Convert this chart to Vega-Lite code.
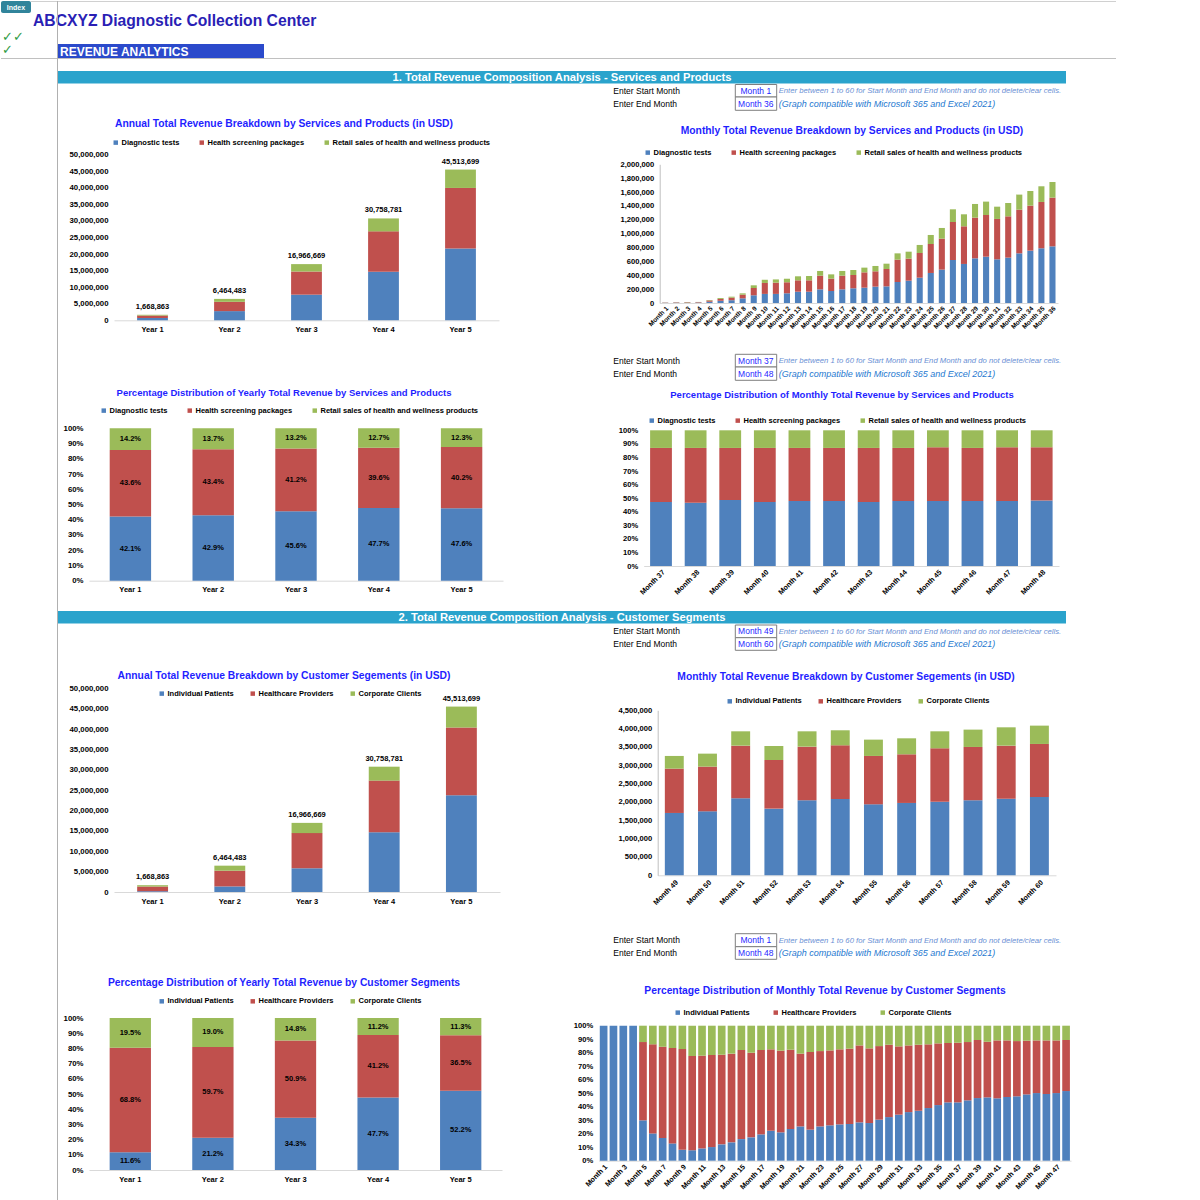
{
"$schema":"https://vega.github.io/schema/vega-lite/v6.json",
"background":"#ffffff",
"padding":0,
"columns":2,
"spacing":0,
"bounds":"flush",
"align":"each",
"resolve":{"scale":{"color":"independent"},"legend":{"color":"independent"}},
"config":{
 "view":{"stroke":null},
 "font":"Liberation Sans",
 "text":{"font":"Liberation Sans"},
 "axis":{"labelFont":"Liberation Sans","labelFontWeight":"bold","labelFontSize":7.5,"labelColor":"#000000","ticks":false,"grid":false,"domainColor":"#d9d9d9","labelPadding":5,"labelOverlap":false},
 "legend":{"labelFont":"Liberation Sans","labelFontSize":7.5,"labelFontWeight":"bold","labelColor":"#000000","symbolType":"square","symbolSize":20,"symbolStrokeWidth":0,"labelOffset":2,"padding":0,"labelLimit":400,"rowPadding":0}
},
"datasets":{
 "svcYear":[
  {"period":"Year 1","cat":"Diagnostic tests","value":702591},{"period":"Year 1","cat":"Health screening packages","value":727624},{"period":"Year 1","cat":"Retail sales of health and wellness products","value":238648},
  {"period":"Year 2","cat":"Diagnostic tests","value":2773263},{"period":"Year 2","cat":"Health screening packages","value":2805586},{"period":"Year 2","cat":"Retail sales of health and wellness products","value":885634},
  {"period":"Year 3","cat":"Diagnostic tests","value":7736801},{"period":"Year 3","cat":"Health screening packages","value":6990268},{"period":"Year 3","cat":"Retail sales of health and wellness products","value":2239600},
  {"period":"Year 4","cat":"Diagnostic tests","value":14671939},{"period":"Year 4","cat":"Health screening packages","value":12180477},{"period":"Year 4","cat":"Retail sales of health and wellness products","value":3906365},
  {"period":"Year 5","cat":"Diagnostic tests","value":21664521},{"period":"Year 5","cat":"Health screening packages","value":18296507},{"period":"Year 5","cat":"Retail sales of health and wellness products","value":5552671}
 ],
 "svcYearPct":[
  {"period":"Year 1","cat":"Diagnostic tests","share":0.421},{"period":"Year 1","cat":"Health screening packages","share":0.436},{"period":"Year 1","cat":"Retail sales of health and wellness products","share":0.142},
  {"period":"Year 2","cat":"Diagnostic tests","share":0.429},{"period":"Year 2","cat":"Health screening packages","share":0.434},{"period":"Year 2","cat":"Retail sales of health and wellness products","share":0.137},
  {"period":"Year 3","cat":"Diagnostic tests","share":0.456},{"period":"Year 3","cat":"Health screening packages","share":0.412},{"period":"Year 3","cat":"Retail sales of health and wellness products","share":0.132},
  {"period":"Year 4","cat":"Diagnostic tests","share":0.477},{"period":"Year 4","cat":"Health screening packages","share":0.396},{"period":"Year 4","cat":"Retail sales of health and wellness products","share":0.127},
  {"period":"Year 5","cat":"Diagnostic tests","share":0.476},{"period":"Year 5","cat":"Health screening packages","share":0.402},{"period":"Year 5","cat":"Retail sales of health and wellness products","share":0.123}
 ],
 "svcMonth":[
  {"period":"Month 1","cat":"Diagnostic tests","value":3000},{"period":"Month 1","cat":"Health screening packages","value":3500},{"period":"Month 1","cat":"Retail sales of health and wellness products","value":1200},
  {"period":"Month 2","cat":"Diagnostic tests","value":4500},{"period":"Month 2","cat":"Health screening packages","value":5500},{"period":"Month 2","cat":"Retail sales of health and wellness products","value":1800},
  {"period":"Month 3","cat":"Diagnostic tests","value":5000},{"period":"Month 3","cat":"Health screening packages","value":6000},{"period":"Month 3","cat":"Retail sales of health and wellness products","value":2000},
  {"period":"Month 4","cat":"Diagnostic tests","value":6000},{"period":"Month 4","cat":"Health screening packages","value":7000},{"period":"Month 4","cat":"Retail sales of health and wellness products","value":2200},
  {"period":"Month 5","cat":"Diagnostic tests","value":18000},{"period":"Month 5","cat":"Health screening packages","value":19000},{"period":"Month 5","cat":"Retail sales of health and wellness products","value":6000},
  {"period":"Month 6","cat":"Diagnostic tests","value":32000},{"period":"Month 6","cat":"Health screening packages","value":27000},{"period":"Month 6","cat":"Retail sales of health and wellness products","value":13000},
  {"period":"Month 7","cat":"Diagnostic tests","value":40000},{"period":"Month 7","cat":"Health screening packages","value":37000},{"period":"Month 7","cat":"Retail sales of health and wellness products","value":14000},
  {"period":"Month 8","cat":"Diagnostic tests","value":67000},{"period":"Month 8","cat":"Health screening packages","value":53000},{"period":"Month 8","cat":"Retail sales of health and wellness products","value":19000},
  {"period":"Month 9","cat":"Diagnostic tests","value":111000},{"period":"Month 9","cat":"Health screening packages","value":105000},{"period":"Month 9","cat":"Retail sales of health and wellness products","value":39000},
  {"period":"Month 10","cat":"Diagnostic tests","value":131000},{"period":"Month 10","cat":"Health screening packages","value":158000},{"period":"Month 10","cat":"Retail sales of health and wellness products","value":46000},
  {"period":"Month 11","cat":"Diagnostic tests","value":131000},{"period":"Month 11","cat":"Health screening packages","value":162000},{"period":"Month 11","cat":"Retail sales of health and wellness products","value":47000},
  {"period":"Month 12","cat":"Diagnostic tests","value":140000},{"period":"Month 12","cat":"Health screening packages","value":159000},{"period":"Month 12","cat":"Retail sales of health and wellness products","value":51000},
  {"period":"Month 13","cat":"Diagnostic tests","value":163000},{"period":"Month 13","cat":"Health screening packages","value":164000},{"period":"Month 13","cat":"Retail sales of health and wellness products","value":58000},
  {"period":"Month 14","cat":"Diagnostic tests","value":163000},{"period":"Month 14","cat":"Health screening packages","value":164000},{"period":"Month 14","cat":"Retail sales of health and wellness products","value":62000},
  {"period":"Month 15","cat":"Diagnostic tests","value":197000},{"period":"Month 15","cat":"Health screening packages","value":197000},{"period":"Month 15","cat":"Retail sales of health and wellness products","value":68000},
  {"period":"Month 16","cat":"Diagnostic tests","value":173000},{"period":"Month 16","cat":"Health screening packages","value":178000},{"period":"Month 16","cat":"Retail sales of health and wellness products","value":62000},
  {"period":"Month 17","cat":"Diagnostic tests","value":197000},{"period":"Month 17","cat":"Health screening packages","value":197000},{"period":"Month 17","cat":"Retail sales of health and wellness products","value":68000},
  {"period":"Month 18","cat":"Diagnostic tests","value":212000},{"period":"Month 18","cat":"Health screening packages","value":192000},{"period":"Month 18","cat":"Retail sales of health and wellness products","value":72000},
  {"period":"Month 19","cat":"Diagnostic tests","value":221000},{"period":"Month 19","cat":"Health screening packages","value":221000},{"period":"Month 19","cat":"Retail sales of health and wellness products","value":68000},
  {"period":"Month 20","cat":"Diagnostic tests","value":236000},{"period":"Month 20","cat":"Health screening packages","value":221000},{"period":"Month 20","cat":"Retail sales of health and wellness products","value":77000},
  {"period":"Month 21","cat":"Diagnostic tests","value":240000},{"period":"Month 21","cat":"Health screening packages","value":250000},{"period":"Month 21","cat":"Retail sales of health and wellness products","value":77000},
  {"period":"Month 22","cat":"Diagnostic tests","value":303000},{"period":"Month 22","cat":"Health screening packages","value":322000},{"period":"Month 22","cat":"Retail sales of health and wellness products","value":91000},
  {"period":"Month 23","cat":"Diagnostic tests","value":322000},{"period":"Month 23","cat":"Health screening packages","value":318000},{"period":"Month 23","cat":"Retail sales of health and wellness products","value":100000},
  {"period":"Month 24","cat":"Diagnostic tests","value":365000},{"period":"Month 24","cat":"Health screening packages","value":356000},{"period":"Month 24","cat":"Retail sales of health and wellness products","value":116000},
  {"period":"Month 25","cat":"Diagnostic tests","value":433000},{"period":"Month 25","cat":"Health screening packages","value":418000},{"period":"Month 25","cat":"Retail sales of health and wellness products","value":130000},
  {"period":"Month 26","cat":"Diagnostic tests","value":481000},{"period":"Month 26","cat":"Health screening packages","value":447000},{"period":"Month 26","cat":"Retail sales of health and wellness products","value":154000},
  {"period":"Month 27","cat":"Diagnostic tests","value":620000},{"period":"Month 27","cat":"Health screening packages","value":548000},{"period":"Month 27","cat":"Retail sales of health and wellness products","value":183000},
  {"period":"Month 28","cat":"Diagnostic tests","value":563000},{"period":"Month 28","cat":"Health screening packages","value":543000},{"period":"Month 28","cat":"Retail sales of health and wellness products","value":173000},
  {"period":"Month 29","cat":"Diagnostic tests","value":644000},{"period":"Month 29","cat":"Health screening packages","value":587000},{"period":"Month 29","cat":"Retail sales of health and wellness products","value":197000},
  {"period":"Month 30","cat":"Diagnostic tests","value":668000},{"period":"Month 30","cat":"Health screening packages","value":601000},{"period":"Month 30","cat":"Retail sales of health and wellness products","value":193000},
  {"period":"Month 31","cat":"Diagnostic tests","value":630000},{"period":"Month 31","cat":"Health screening packages","value":582000},{"period":"Month 31","cat":"Retail sales of health and wellness products","value":177000},
  {"period":"Month 32","cat":"Diagnostic tests","value":654000},{"period":"Month 32","cat":"Health screening packages","value":596000},{"period":"Month 32","cat":"Retail sales of health and wellness products","value":192000},
  {"period":"Month 33","cat":"Diagnostic tests","value":716000},{"period":"Month 33","cat":"Health screening packages","value":630000},{"period":"Month 33","cat":"Retail sales of health and wellness products","value":217000},
  {"period":"Month 34","cat":"Diagnostic tests","value":755000},{"period":"Month 34","cat":"Health screening packages","value":649000},{"period":"Month 34","cat":"Retail sales of health and wellness products","value":211000},
  {"period":"Month 35","cat":"Diagnostic tests","value":789000},{"period":"Month 35","cat":"Health screening packages","value":668000},{"period":"Month 35","cat":"Retail sales of health and wellness products","value":226000},
  {"period":"Month 36","cat":"Diagnostic tests","value":817000},{"period":"Month 36","cat":"Health screening packages","value":702000},{"period":"Month 36","cat":"Retail sales of health and wellness products","value":226000}
 ],
 "svcMonthPct":[
  {"period":"Month 37","cat":"Diagnostic tests","share":0.472},{"period":"Month 37","cat":"Health screening packages","share":0.398},{"period":"Month 37","cat":"Retail sales of health and wellness products","share":0.130},
  {"period":"Month 38","cat":"Diagnostic tests","share":0.467},{"period":"Month 38","cat":"Health screening packages","share":0.403},{"period":"Month 38","cat":"Retail sales of health and wellness products","share":0.130},
  {"period":"Month 39","cat":"Diagnostic tests","share":0.486},{"period":"Month 39","cat":"Health screening packages","share":0.384},{"period":"Month 39","cat":"Retail sales of health and wellness products","share":0.130},
  {"period":"Month 40","cat":"Diagnostic tests","share":0.472},{"period":"Month 40","cat":"Health screening packages","share":0.398},{"period":"Month 40","cat":"Retail sales of health and wellness products","share":0.130},
  {"period":"Month 41","cat":"Diagnostic tests","share":0.479},{"period":"Month 41","cat":"Health screening packages","share":0.391},{"period":"Month 41","cat":"Retail sales of health and wellness products","share":0.130},
  {"period":"Month 42","cat":"Diagnostic tests","share":0.479},{"period":"Month 42","cat":"Health screening packages","share":0.391},{"period":"Month 42","cat":"Retail sales of health and wellness products","share":0.130},
  {"period":"Month 43","cat":"Diagnostic tests","share":0.472},{"period":"Month 43","cat":"Health screening packages","share":0.398},{"period":"Month 43","cat":"Retail sales of health and wellness products","share":0.130},
  {"period":"Month 44","cat":"Diagnostic tests","share":0.479},{"period":"Month 44","cat":"Health screening packages","share":0.391},{"period":"Month 44","cat":"Retail sales of health and wellness products","share":0.130},
  {"period":"Month 45","cat":"Diagnostic tests","share":0.479},{"period":"Month 45","cat":"Health screening packages","share":0.396},{"period":"Month 45","cat":"Retail sales of health and wellness products","share":0.125},
  {"period":"Month 46","cat":"Diagnostic tests","share":0.479},{"period":"Month 46","cat":"Health screening packages","share":0.391},{"period":"Month 46","cat":"Retail sales of health and wellness products","share":0.130},
  {"period":"Month 47","cat":"Diagnostic tests","share":0.479},{"period":"Month 47","cat":"Health screening packages","share":0.396},{"period":"Month 47","cat":"Retail sales of health and wellness products","share":0.125},
  {"period":"Month 48","cat":"Diagnostic tests","share":0.482},{"period":"Month 48","cat":"Health screening packages","share":0.393},{"period":"Month 48","cat":"Retail sales of health and wellness products","share":0.125}
 ],
 "cusYear":[
  {"period":"Year 1","cat":"Individual Patients","value":193588},{"period":"Year 1","cat":"Healthcare Providers","value":1148178},{"period":"Year 1","cat":"Corporate Clients","value":327097},
  {"period":"Year 2","cat":"Individual Patients","value":1370470},{"period":"Year 2","cat":"Healthcare Providers","value":3859296},{"period":"Year 2","cat":"Corporate Clients","value":1234717},
  {"period":"Year 3","cat":"Individual Patients","value":5819567},{"period":"Year 3","cat":"Healthcare Providers","value":8636035},{"period":"Year 3","cat":"Corporate Clients","value":2511067},
  {"period":"Year 4","cat":"Individual Patients","value":14671939},{"period":"Year 4","cat":"Healthcare Providers","value":12672618},{"period":"Year 4","cat":"Corporate Clients","value":3414224},
  {"period":"Year 5","cat":"Individual Patients","value":23758151},{"period":"Year 5","cat":"Healthcare Providers","value":16612500},{"period":"Year 5","cat":"Corporate Clients","value":5143048}
 ],
 "cusYearPct":[
  {"period":"Year 1","cat":"Individual Patients","share":0.116},{"period":"Year 1","cat":"Healthcare Providers","share":0.688},{"period":"Year 1","cat":"Corporate Clients","share":0.195},
  {"period":"Year 2","cat":"Individual Patients","share":0.212},{"period":"Year 2","cat":"Healthcare Providers","share":0.597},{"period":"Year 2","cat":"Corporate Clients","share":0.190},
  {"period":"Year 3","cat":"Individual Patients","share":0.343},{"period":"Year 3","cat":"Healthcare Providers","share":0.509},{"period":"Year 3","cat":"Corporate Clients","share":0.148},
  {"period":"Year 4","cat":"Individual Patients","share":0.477},{"period":"Year 4","cat":"Healthcare Providers","share":0.412},{"period":"Year 4","cat":"Corporate Clients","share":0.112},
  {"period":"Year 5","cat":"Individual Patients","share":0.522},{"period":"Year 5","cat":"Healthcare Providers","share":0.365},{"period":"Year 5","cat":"Corporate Clients","share":0.113}
 ],
 "cusMonth":[
  {"period":"Month 49","cat":"Individual Patients","value":1700000},{"period":"Month 49","cat":"Healthcare Providers","value":1209000},{"period":"Month 49","cat":"Corporate Clients","value":346000},
  {"period":"Month 50","cat":"Individual Patients","value":1745000},{"period":"Month 50","cat":"Healthcare Providers","value":1219000},{"period":"Month 50","cat":"Corporate Clients","value":354000},
  {"period":"Month 51","cat":"Individual Patients","value":2100000},{"period":"Month 51","cat":"Healthcare Providers","value":1436000},{"period":"Month 51","cat":"Corporate Clients","value":391000},
  {"period":"Month 52","cat":"Individual Patients","value":1818000},{"period":"Month 52","cat":"Healthcare Providers","value":1327000},{"period":"Month 52","cat":"Corporate Clients","value":382000},
  {"period":"Month 53","cat":"Individual Patients","value":2045000},{"period":"Month 53","cat":"Healthcare Providers","value":1464000},{"period":"Month 53","cat":"Corporate Clients","value":418000},
  {"period":"Month 54","cat":"Individual Patients","value":2082000},{"period":"Month 54","cat":"Healthcare Providers","value":1463000},{"period":"Month 54","cat":"Corporate Clients","value":410000},
  {"period":"Month 55","cat":"Individual Patients","value":1936000},{"period":"Month 55","cat":"Healthcare Providers","value":1319000},{"period":"Month 55","cat":"Corporate Clients","value":445000},
  {"period":"Month 56","cat":"Individual Patients","value":1973000},{"period":"Month 56","cat":"Healthcare Providers","value":1327000},{"period":"Month 56","cat":"Corporate Clients","value":436000},
  {"period":"Month 57","cat":"Individual Patients","value":2009000},{"period":"Month 57","cat":"Healthcare Providers","value":1455000},{"period":"Month 57","cat":"Corporate Clients","value":463000},
  {"period":"Month 58","cat":"Individual Patients","value":2045000},{"period":"Month 58","cat":"Healthcare Providers","value":1455000},{"period":"Month 58","cat":"Corporate Clients","value":473000},
  {"period":"Month 59","cat":"Individual Patients","value":2091000},{"period":"Month 59","cat":"Healthcare Providers","value":1445000},{"period":"Month 59","cat":"Corporate Clients","value":500000},
  {"period":"Month 60","cat":"Individual Patients","value":2136000},{"period":"Month 60","cat":"Healthcare Providers","value":1446000},{"period":"Month 60","cat":"Corporate Clients","value":500000}
 ],
 "cusMonthPct":[
  {"period":"Month 1","cat":"Individual Patients","share":1.0},
  {"period":"Month 2","cat":"Individual Patients","share":1.0},
  {"period":"Month 3","cat":"Individual Patients","share":1.0},
  {"period":"Month 4","cat":"Individual Patients","share":1.0},
  {"period":"Month 5","cat":"Individual Patients","share":0.299},{"period":"Month 5","cat":"Healthcare Providers","share":0.580},{"period":"Month 5","cat":"Corporate Clients","share":0.121},
  {"period":"Month 6","cat":"Individual Patients","share":0.202},{"period":"Month 6","cat":"Healthcare Providers","share":0.660},{"period":"Month 6","cat":"Corporate Clients","share":0.138},
  {"period":"Month 7","cat":"Individual Patients","share":0.168},{"period":"Month 7","cat":"Healthcare Providers","share":0.676},{"period":"Month 7","cat":"Corporate Clients","share":0.156},
  {"period":"Month 8","cat":"Individual Patients","share":0.128},{"period":"Month 8","cat":"Healthcare Providers","share":0.707},{"period":"Month 8","cat":"Corporate Clients","share":0.165},
  {"period":"Month 9","cat":"Individual Patients","share":0.081},{"period":"Month 9","cat":"Healthcare Providers","share":0.746},{"period":"Month 9","cat":"Corporate Clients","share":0.173},
  {"period":"Month 10","cat":"Individual Patients","share":0.077},{"period":"Month 10","cat":"Healthcare Providers","share":0.698},{"period":"Month 10","cat":"Corporate Clients","share":0.225},
  {"period":"Month 11","cat":"Individual Patients","share":0.091},{"period":"Month 11","cat":"Healthcare Providers","share":0.687},{"period":"Month 11","cat":"Corporate Clients","share":0.222},
  {"period":"Month 12","cat":"Individual Patients","share":0.101},{"period":"Month 12","cat":"Healthcare Providers","share":0.682},{"period":"Month 12","cat":"Corporate Clients","share":0.217},
  {"period":"Month 13","cat":"Individual Patients","share":0.121},{"period":"Month 13","cat":"Healthcare Providers","share":0.664},{"period":"Month 13","cat":"Corporate Clients","share":0.215},
  {"period":"Month 14","cat":"Individual Patients","share":0.136},{"period":"Month 14","cat":"Healthcare Providers","share":0.657},{"period":"Month 14","cat":"Corporate Clients","share":0.207},
  {"period":"Month 15","cat":"Individual Patients","share":0.160},{"period":"Month 15","cat":"Healthcare Providers","share":0.660},{"period":"Month 15","cat":"Corporate Clients","share":0.180},
  {"period":"Month 16","cat":"Individual Patients","share":0.173},{"period":"Month 16","cat":"Healthcare Providers","share":0.627},{"period":"Month 16","cat":"Corporate Clients","share":0.200},
  {"period":"Month 17","cat":"Individual Patients","share":0.195},{"period":"Month 17","cat":"Healthcare Providers","share":0.625},{"period":"Month 17","cat":"Corporate Clients","share":0.180},
  {"period":"Month 18","cat":"Individual Patients","share":0.222},{"period":"Month 18","cat":"Healthcare Providers","share":0.603},{"period":"Month 18","cat":"Corporate Clients","share":0.175},
  {"period":"Month 19","cat":"Individual Patients","share":0.210},{"period":"Month 19","cat":"Healthcare Providers","share":0.605},{"period":"Month 19","cat":"Corporate Clients","share":0.185},
  {"period":"Month 20","cat":"Individual Patients","share":0.235},{"period":"Month 20","cat":"Healthcare Providers","share":0.587},{"period":"Month 20","cat":"Corporate Clients","share":0.178},
  {"period":"Month 21","cat":"Individual Patients","share":0.254},{"period":"Month 21","cat":"Healthcare Providers","share":0.539},{"period":"Month 21","cat":"Corporate Clients","share":0.207},
  {"period":"Month 22","cat":"Individual Patients","share":0.230},{"period":"Month 22","cat":"Healthcare Providers","share":0.575},{"period":"Month 22","cat":"Corporate Clients","share":0.195},
  {"period":"Month 23","cat":"Individual Patients","share":0.254},{"period":"Month 23","cat":"Healthcare Providers","share":0.558},{"period":"Month 23","cat":"Corporate Clients","share":0.188},
  {"period":"Month 24","cat":"Individual Patients","share":0.262},{"period":"Month 24","cat":"Healthcare Providers","share":0.555},{"period":"Month 24","cat":"Corporate Clients","share":0.183},
  {"period":"Month 25","cat":"Individual Patients","share":0.269},{"period":"Month 25","cat":"Healthcare Providers","share":0.556},{"period":"Month 25","cat":"Corporate Clients","share":0.175},
  {"period":"Month 26","cat":"Individual Patients","share":0.272},{"period":"Month 26","cat":"Healthcare Providers","share":0.558},{"period":"Month 26","cat":"Corporate Clients","share":0.170},
  {"period":"Month 27","cat":"Individual Patients","share":0.284},{"period":"Month 27","cat":"Healthcare Providers","share":0.570},{"period":"Month 27","cat":"Corporate Clients","share":0.146},
  {"period":"Month 28","cat":"Individual Patients","share":0.279},{"period":"Month 28","cat":"Healthcare Providers","share":0.553},{"period":"Month 28","cat":"Corporate Clients","share":0.168},
  {"period":"Month 29","cat":"Individual Patients","share":0.304},{"period":"Month 29","cat":"Healthcare Providers","share":0.545},{"period":"Month 29","cat":"Corporate Clients","share":0.151},
  {"period":"Month 30","cat":"Individual Patients","share":0.323},{"period":"Month 30","cat":"Healthcare Providers","share":0.536},{"period":"Month 30","cat":"Corporate Clients","share":0.141},
  {"period":"Month 31","cat":"Individual Patients","share":0.341},{"period":"Month 31","cat":"Healthcare Providers","share":0.506},{"period":"Month 31","cat":"Corporate Clients","share":0.153},
  {"period":"Month 32","cat":"Individual Patients","share":0.360},{"period":"Month 32","cat":"Healthcare Providers","share":0.494},{"period":"Month 32","cat":"Corporate Clients","share":0.146},
  {"period":"Month 33","cat":"Individual Patients","share":0.370},{"period":"Month 33","cat":"Healthcare Providers","share":0.489},{"period":"Month 33","cat":"Corporate Clients","share":0.141},
  {"period":"Month 34","cat":"Individual Patients","share":0.390},{"period":"Month 34","cat":"Healthcare Providers","share":0.472},{"period":"Month 34","cat":"Corporate Clients","share":0.138},
  {"period":"Month 35","cat":"Individual Patients","share":0.412},{"period":"Month 35","cat":"Healthcare Providers","share":0.457},{"period":"Month 35","cat":"Corporate Clients","share":0.131},
  {"period":"Month 36","cat":"Individual Patients","share":0.432},{"period":"Month 36","cat":"Healthcare Providers","share":0.440},{"period":"Month 36","cat":"Corporate Clients","share":0.128},
  {"period":"Month 37","cat":"Individual Patients","share":0.432},{"period":"Month 37","cat":"Healthcare Providers","share":0.442},{"period":"Month 37","cat":"Corporate Clients","share":0.126},
  {"period":"Month 38","cat":"Individual Patients","share":0.447},{"period":"Month 38","cat":"Healthcare Providers","share":0.432},{"period":"Month 38","cat":"Corporate Clients","share":0.121},
  {"period":"Month 39","cat":"Individual Patients","share":0.464},{"period":"Month 39","cat":"Healthcare Providers","share":0.430},{"period":"Month 39","cat":"Corporate Clients","share":0.106},
  {"period":"Month 40","cat":"Individual Patients","share":0.469},{"period":"Month 40","cat":"Healthcare Providers","share":0.412},{"period":"Month 40","cat":"Corporate Clients","share":0.119},
  {"period":"Month 41","cat":"Individual Patients","share":0.462},{"period":"Month 41","cat":"Healthcare Providers","share":0.429},{"period":"Month 41","cat":"Corporate Clients","share":0.109},
  {"period":"Month 42","cat":"Individual Patients","share":0.472},{"period":"Month 42","cat":"Healthcare Providers","share":0.419},{"period":"Month 42","cat":"Corporate Clients","share":0.109},
  {"period":"Month 43","cat":"Individual Patients","share":0.477},{"period":"Month 43","cat":"Healthcare Providers","share":0.409},{"period":"Month 43","cat":"Corporate Clients","share":0.114},
  {"period":"Month 44","cat":"Individual Patients","share":0.491},{"period":"Month 44","cat":"Healthcare Providers","share":0.398},{"period":"Month 44","cat":"Corporate Clients","share":0.111},
  {"period":"Month 45","cat":"Individual Patients","share":0.501},{"period":"Month 45","cat":"Healthcare Providers","share":0.390},{"period":"Month 45","cat":"Corporate Clients","share":0.109},
  {"period":"Month 46","cat":"Individual Patients","share":0.494},{"period":"Month 46","cat":"Healthcare Providers","share":0.397},{"period":"Month 46","cat":"Corporate Clients","share":0.109},
  {"period":"Month 47","cat":"Individual Patients","share":0.501},{"period":"Month 47","cat":"Healthcare Providers","share":0.390},{"period":"Month 47","cat":"Corporate Clients","share":0.109},
  {"period":"Month 48","cat":"Individual Patients","share":0.516},{"period":"Month 48","cat":"Healthcare Providers","share":0.378},{"period":"Month 48","cat":"Corporate Clients","share":0.106}
 ]
},
"concat":[
 {"width":560,"height":83,"data":{"values":[{}]},"layer":[
  {"mark":{"type":"rect","color":"#31849b","cornerRadius":2},"encoding":{"x":{"datum":0,"type":"quantitative","scale":{"domain":[0,560],"range":[0,560],"nice":false,"zero":false},"axis":null},"x2":{"datum":30},"y":{"datum":0,"type":"quantitative","scale":{"domain":[0,83],"range":[0,83],"nice":false,"zero":false},"axis":null},"y2":{"datum":12}}},
  {"mark":{"type":"text","text":"Index","align":"center","baseline":"middle","fontSize":7,"fontWeight":"bold","color":"#ffffff"},"encoding":{"x":{"datum":15,"type":"quantitative","scale":{"domain":[0,560],"range":[0,560],"nice":false,"zero":false},"axis":null},"y":{"datum":6.5,"type":"quantitative","scale":{"domain":[0,83],"range":[0,83],"nice":false,"zero":false},"axis":null}}},
  {"mark":{"type":"rule","color":"#d0d0d0"},"encoding":{"x":{"datum":30,"type":"quantitative","scale":{"domain":[0,560],"range":[0,560],"nice":false,"zero":false},"axis":null},"x2":{"datum":560},"y":{"datum":0.5,"type":"quantitative","scale":{"domain":[0,83],"range":[0,83],"nice":false,"zero":false},"axis":null}}},
  {"mark":{"type":"text","text":"ABCXYZ Diagnostic Collection Center","align":"left","baseline":"middle","fontSize":15.7,"fontWeight":"bold","color":"#2a1fb5"},"encoding":{"x":{"datum":32,"type":"quantitative","scale":{"domain":[0,560],"range":[0,560],"nice":false,"zero":false},"axis":null},"y":{"datum":19.5,"type":"quantitative","scale":{"domain":[0,83],"range":[0,83],"nice":false,"zero":false},"axis":null}}},
  {"mark":{"type":"text","text":"✓✓","align":"left","baseline":"middle","font":"DejaVu Sans","fontSize":13,"color":"#2e9b44"},"encoding":{"x":{"datum":1,"type":"quantitative","scale":{"domain":[0,560],"range":[0,560],"nice":false,"zero":false},"axis":null},"y":{"datum":36,"type":"quantitative","scale":{"domain":[0,83],"range":[0,83],"nice":false,"zero":false},"axis":null}}},
  {"mark":{"type":"text","text":"✓","align":"left","baseline":"middle","font":"DejaVu Sans","fontSize":13,"color":"#2e9b44"},"encoding":{"x":{"datum":1,"type":"quantitative","scale":{"domain":[0,560],"range":[0,560],"nice":false,"zero":false},"axis":null},"y":{"datum":49,"type":"quantitative","scale":{"domain":[0,83],"range":[0,83],"nice":false,"zero":false},"axis":null}}},
  {"mark":{"type":"rule","color":"#c0c0c0"},"encoding":{"x":{"datum":0,"type":"quantitative","scale":{"domain":[0,560],"range":[0,560],"nice":false,"zero":false},"axis":null},"x2":{"datum":560},"y":{"datum":57.5,"type":"quantitative","scale":{"domain":[0,83],"range":[0,83],"nice":false,"zero":false},"axis":null}}},
  {"mark":{"type":"rule","color":"#b0b0b0"},"encoding":{"x":{"datum":56.5,"type":"quantitative","scale":{"domain":[0,560],"range":[0,560],"nice":false,"zero":false},"axis":null}}},
  {"mark":{"type":"rect","color":"#2b4acb"},"encoding":{"x":{"datum":57,"type":"quantitative","scale":{"domain":[0,560],"range":[0,560],"nice":false,"zero":false},"axis":null},"x2":{"datum":263},"y":{"datum":43,"type":"quantitative","scale":{"domain":[0,83],"range":[0,83],"nice":false,"zero":false},"axis":null},"y2":{"datum":57}}},
  {"mark":{"type":"text","text":"REVENUE ANALYTICS","align":"left","baseline":"middle","fontSize":12,"fontWeight":"bold","color":"#ffffff"},"encoding":{"x":{"datum":59,"type":"quantitative","scale":{"domain":[0,560],"range":[0,560],"nice":false,"zero":false},"axis":null},"y":{"datum":50.5,"type":"quantitative","scale":{"domain":[0,83],"range":[0,83],"nice":false,"zero":false},"axis":null}}},
  {"mark":{"type":"rect","color":"#2aa3cc"},"encoding":{"x":{"datum":57,"type":"quantitative","scale":{"domain":[0,560],"range":[0,560],"nice":false,"zero":false},"axis":null},"x2":{"datum":560},"y":{"datum":70,"type":"quantitative","scale":{"domain":[0,83],"range":[0,83],"nice":false,"zero":false},"axis":null},"y2":{"datum":82.5}}}
 ]},
 {"width":555,"height":83,"data":{"values":[{}]},"layer":[
  {"mark":{"type":"rule","color":"#d0d0d0"},"encoding":{"x":{"datum":0,"type":"quantitative","scale":{"domain":[0,555],"range":[0,555],"nice":false,"zero":false},"axis":null},"x2":{"datum":555},"y":{"datum":0.5,"type":"quantitative","scale":{"domain":[0,83],"range":[0,83],"nice":false,"zero":false},"axis":null}}},
  {"mark":{"type":"rule","color":"#c0c0c0"},"encoding":{"x":{"datum":0,"type":"quantitative","scale":{"domain":[0,555],"range":[0,555],"nice":false,"zero":false},"axis":null},"x2":{"datum":555},"y":{"datum":57.5,"type":"quantitative","scale":{"domain":[0,83],"range":[0,83],"nice":false,"zero":false},"axis":null}}},
  {"mark":{"type":"rect","color":"#2aa3cc"},"encoding":{"x":{"datum":0,"type":"quantitative","scale":{"domain":[0,555],"range":[0,555],"nice":false,"zero":false},"axis":null},"x2":{"datum":505},"y":{"datum":70,"type":"quantitative","scale":{"domain":[0,83],"range":[0,83],"nice":false,"zero":false},"axis":null},"y2":{"datum":82.5}}},
  {"mark":{"type":"text","text":"1. Total Revenue Composition Analysis - Services and Products","align":"center","baseline":"middle","fontSize":11.2,"fontWeight":"bold","color":"#ffffff"},"encoding":{"x":{"datum":1,"type":"quantitative","scale":{"domain":[0,555],"range":[0,555],"nice":false,"zero":false},"axis":null},"y":{"datum":76.5,"type":"quantitative","scale":{"domain":[0,83],"range":[0,83],"nice":false,"zero":false},"axis":null}}}
 ]},
 {"width":560,"height":262,"resolve":{"scale":{"x":"independent","y":"independent"}},"layer":[
  {"data":{"name":"svcYear"},
   "encoding":{"x":{"field":"period","type":"nominal","sort":null,"scale":{"range":[113,498],"paddingInner":0.6,"paddingOuter":0.3},"axis":{"title":null,"labelAngle":0,"offset":-25.7}}},
   "layer":[
    {"mark":{"type":"bar"},"encoding":{
     "y":{"field":"value","type":"quantitative","stack":"zero","scale":{"domain":[0,50000000],"range":[236.3,70.7],"nice":false},"axis":{"title":null,"offset":-113,"domain":false,"values":[0,5000000,10000000,15000000,20000000,25000000,30000000,35000000,40000000,45000000,50000000],"format":",d","labelPadding":6,"labelFontSize":7.8}},
     "color":{"field":"cat","type":"nominal","scale":{"domain":["Diagnostic tests","Health screening packages","Retail sales of health and wellness products"],"range":["#4f81bd","#c0504d","#9bbb59"]},"legend":{"title":null,"orient":"none","legendX":111,"legendY":54.5,"direction":"horizontal","columnPadding":18}},
     "order":{"field":"cat","type":"nominal","sort":"ascending"}}},
    {"mark":{"type":"text","baseline":"bottom","dy":-4,"fontSize":7.5,"fontWeight":"bold"},"encoding":{
     "y":{"aggregate":"sum","field":"value","type":"quantitative","axis":{"title":null,"offset":-113,"domain":false,"values":[0,5000000,10000000,15000000,20000000,25000000,30000000,35000000,40000000,45000000,50000000],"format":",d","labelPadding":6,"labelFontSize":7.8}},
     "text":{"aggregate":"sum","field":"value","type":"quantitative","format":",d"}}}
   ]},
  {"data":{"values":[{}]},"layer":[
   {"mark":{"type":"rule","color":"#b0b0b0"},"encoding":{"x":{"datum":56.5,"type":"quantitative","scale":{"domain":[0,560],"range":[0,560],"nice":false,"zero":false},"axis":null}}},
   {"mark":{"type":"text","text":"Annual Total Revenue Breakdown by Services and Products (in USD)","align":"center","baseline":"middle","fontSize":10.3,"fontWeight":"bold","color":"#1f1fff"},"encoding":{"x":{"datum":283,"type":"quantitative","scale":{"domain":[0,560],"range":[0,560],"nice":false,"zero":false},"axis":null},"y":{"datum":40,"type":"quantitative","scale":{"domain":[0,262],"range":[0,262],"nice":false,"zero":false},"axis":null}}}
  ]}
 ]},
 {"width":555,"height":262,"resolve":{"scale":{"x":"independent","y":"independent"}},"layer":[
  {"data":{"name":"svcMonth"},
   "encoding":{"x":{"field":"period","type":"nominal","sort":null,"scale":{"range":[98.7,497],"paddingInner":0.45,"paddingOuter":0.225},"axis":{"title":null,"labelAngle":-45,"offset":-43,"labelFontSize":6.5,"labelPadding":2}}},
   "layer":[
    {"mark":{"type":"bar"},"encoding":{
     "y":{"field":"value","type":"quantitative","stack":"zero","scale":{"domain":[0,2000000],"range":[219,80.3],"nice":false},"axis":{"title":null,"offset":-98.7,"domain":true,"domainColor":"#bfbfbf","values":[0,200000,400000,600000,800000,1000000,1200000,1400000,1600000,1800000,2000000],"format":",d","labelPadding":6,"labelFontSize":7.6}},
     "color":{"field":"cat","type":"nominal","scale":{"domain":["Diagnostic tests","Health screening packages","Retail sales of health and wellness products"],"range":["#4f81bd","#c0504d","#9bbb59"]},"legend":{"title":null,"orient":"none","legendX":83,"legendY":64.5,"direction":"horizontal","columnPadding":18}},
     "order":{"field":"cat","type":"nominal","sort":"ascending"}}}
   ]},
  {"data":{"values":[{}]},"layer":[
   {"mark":{"type":"text","text":"Enter Start Month","align":"left","baseline":"middle","fontSize":8.5,"color":"#000000"},"encoding":{"x":{"datum":52.3,"type":"quantitative","scale":{"domain":[0,555],"range":[0,555],"nice":false,"zero":false},"axis":null},"y":{"datum":6.5,"type":"quantitative","scale":{"domain":[0,262],"range":[0,262],"nice":false,"zero":false},"axis":null}}},
   {"mark":{"type":"text","text":"Enter End Month","align":"left","baseline":"middle","fontSize":8.5,"color":"#000000"},"encoding":{"x":{"datum":52.3,"type":"quantitative","scale":{"domain":[0,555],"range":[0,555],"nice":false,"zero":false},"axis":null},"y":{"datum":20,"type":"quantitative","scale":{"domain":[0,262],"range":[0,262],"nice":false,"zero":false},"axis":null}}},
   {"mark":{"type":"rect","fill":"#ffffff","stroke":"#7f7f7f","strokeWidth":1},"encoding":{"x":{"datum":174.3,"type":"quantitative","scale":{"domain":[0,555],"range":[0,555],"nice":false,"zero":false},"axis":null},"x2":{"datum":215.7},"y":{"datum":0.5,"type":"quantitative","scale":{"domain":[0,262],"range":[0,262],"nice":false,"zero":false},"axis":null},"y2":{"datum":13}}},
   {"mark":{"type":"rect","fill":"#ffffff","stroke":"#7f7f7f","strokeWidth":1},"encoding":{"x":{"datum":174.3,"type":"quantitative","scale":{"domain":[0,555],"range":[0,555],"nice":false,"zero":false},"axis":null},"x2":{"datum":215.7},"y":{"datum":13,"type":"quantitative","scale":{"domain":[0,262],"range":[0,262],"nice":false,"zero":false},"axis":null},"y2":{"datum":26.3}}},
   {"mark":{"type":"text","text":"Month 1","align":"center","baseline":"middle","fontSize":8.5,"color":"#1f1fff"},"encoding":{"x":{"datum":194.8,"type":"quantitative","scale":{"domain":[0,555],"range":[0,555],"nice":false,"zero":false},"axis":null},"y":{"datum":6.5,"type":"quantitative","scale":{"domain":[0,262],"range":[0,262],"nice":false,"zero":false},"axis":null}}},
   {"mark":{"type":"text","text":"Month 36","align":"center","baseline":"middle","fontSize":8.5,"color":"#1f1fff"},"encoding":{"x":{"datum":194.8,"type":"quantitative","scale":{"domain":[0,555],"range":[0,555],"nice":false,"zero":false},"axis":null},"y":{"datum":20,"type":"quantitative","scale":{"domain":[0,262],"range":[0,262],"nice":false,"zero":false},"axis":null}}},
   {"mark":{"type":"text","text":"Enter between 1 to 60 for Start Month and End Month and do not delete/clear cells.","align":"left","baseline":"middle","fontSize":7.7,"fontStyle":"italic","color":"#6a8fd4"},"encoding":{"x":{"datum":217.7,"type":"quantitative","scale":{"domain":[0,555],"range":[0,555],"nice":false,"zero":false},"axis":null},"y":{"datum":7,"type":"quantitative","scale":{"domain":[0,262],"range":[0,262],"nice":false,"zero":false},"axis":null}}},
   {"mark":{"type":"text","text":"(Graph compatible with Microsoft 365 and Excel 2021)","align":"left","baseline":"middle","fontSize":9,"fontStyle":"italic","color":"#2478d0"},"encoding":{"x":{"datum":217.7,"type":"quantitative","scale":{"domain":[0,555],"range":[0,555],"nice":false,"zero":false},"axis":null},"y":{"datum":20,"type":"quantitative","scale":{"domain":[0,262],"range":[0,262],"nice":false,"zero":false},"axis":null}}},
   {"mark":{"type":"text","text":"Monthly Total Revenue Breakdown by Services and Products (in USD)","align":"center","baseline":"middle","fontSize":10.3,"fontWeight":"bold","color":"#1f1fff"},"encoding":{"x":{"datum":291,"type":"quantitative","scale":{"domain":[0,555],"range":[0,555],"nice":false,"zero":false},"axis":null},"y":{"datum":47,"type":"quantitative","scale":{"domain":[0,262],"range":[0,262],"nice":false,"zero":false},"axis":null}}}
  ]}
 ]},
 {"width":560,"height":260,"resolve":{"scale":{"x":"independent","y":"independent"}},"layer":[
  {"data":{"name":"svcYearPct"},
   "encoding":{"x":{"field":"period","type":"nominal","sort":null,"scale":{"range":[88,502],"paddingInner":0.5,"paddingOuter":0.25},"axis":{"title":null,"labelAngle":0,"offset":-25.3}}},
   "layer":[
    {"mark":{"type":"bar"},"encoding":{
     "y":{"field":"share","type":"quantitative","stack":"normalize","scale":{"domain":[0,1],"range":[234.7,82.3],"nice":false},"axis":{"title":null,"offset":-88,"domain":false,"values":[0,0.1,0.2,0.3,0.4,0.5,0.6,0.7,0.8,0.9,1],"format":".0%","labelPadding":6,"labelFontSize":7.8}},
     "color":{"field":"cat","type":"nominal","scale":{"domain":["Diagnostic tests","Health screening packages","Retail sales of health and wellness products"],"range":["#4f81bd","#c0504d","#9bbb59"]},"legend":{"title":null,"orient":"none","legendX":99,"legendY":60.5,"direction":"horizontal","columnPadding":18}},
     "order":{"field":"cat","type":"nominal","sort":"ascending"}}},
    {"mark":{"type":"text","baseline":"middle","fontSize":7.5,"fontWeight":"bold","color":"#000000"},"encoding":{
     "y":{"field":"share","type":"quantitative","stack":"normalize","bandPosition":0.5,"axis":{"title":null,"offset":-88,"domain":false,"values":[0,0.1,0.2,0.3,0.4,0.5,0.6,0.7,0.8,0.9,1],"format":".0%","labelPadding":6,"labelFontSize":7.8}},
     "detail":{"field":"cat","type":"nominal"},
     "order":{"field":"cat","type":"nominal","sort":"ascending"},
     "text":{"field":"share","type":"quantitative","format":".1%"}}}
   ]},
  {"data":{"values":[{}]},"layer":[
   {"mark":{"type":"rule","color":"#b0b0b0"},"encoding":{"x":{"datum":56.5,"type":"quantitative","scale":{"domain":[0,560],"range":[0,560],"nice":false,"zero":false},"axis":null}}},
   {"mark":{"type":"text","text":"Percentage Distribution of Yearly Total Revenue by Services and Products","align":"center","baseline":"middle","fontSize":9.5,"fontWeight":"bold","color":"#1f1fff"},"encoding":{"x":{"datum":283,"type":"quantitative","scale":{"domain":[0,560],"range":[0,560],"nice":false,"zero":false},"axis":null},"y":{"datum":47,"type":"quantitative","scale":{"domain":[0,260],"range":[0,260],"nice":false,"zero":false},"axis":null}}}
  ]}
 ]},
 {"width":555,"height":260,"resolve":{"scale":{"x":"independent","y":"independent"}},"layer":[
  {"data":{"name":"svcMonthPct"},
   "encoding":{"x":{"field":"period","type":"nominal","sort":null,"scale":{"range":[82.7,498],"paddingInner":0.37,"paddingOuter":0.185},"axis":{"title":null,"labelAngle":-45,"offset":-40,"labelFontSize":7.2,"labelPadding":2}}},
   "layer":[
    {"mark":{"type":"bar"},"encoding":{
     "y":{"field":"share","type":"quantitative","stack":"normalize","scale":{"domain":[0,1],"range":[220,84.3],"nice":false},"axis":{"title":null,"offset":-82.7,"domain":false,"values":[0,0.1,0.2,0.3,0.4,0.5,0.6,0.7,0.8,0.9,1],"format":".0%","labelPadding":6,"labelFontSize":7.6}},
     "color":{"field":"cat","type":"nominal","scale":{"domain":["Diagnostic tests","Health screening packages","Retail sales of health and wellness products"],"range":["#4f81bd","#c0504d","#9bbb59"]},"legend":{"title":null,"orient":"none","legendX":87,"legendY":70.5,"direction":"horizontal","columnPadding":18}},
     "order":{"field":"cat","type":"nominal","sort":"ascending"}}}
   ]},
  {"data":{"values":[{}]},"layer":[
   {"mark":{"type":"text","text":"Enter Start Month","align":"left","baseline":"middle","fontSize":8.5,"color":"#000000"},"encoding":{"x":{"datum":52.3,"type":"quantitative","scale":{"domain":[0,555],"range":[0,555],"nice":false,"zero":false},"axis":null},"y":{"datum":14.5,"type":"quantitative","scale":{"domain":[0,260],"range":[0,260],"nice":false,"zero":false},"axis":null}}},
   {"mark":{"type":"text","text":"Enter End Month","align":"left","baseline":"middle","fontSize":8.5,"color":"#000000"},"encoding":{"x":{"datum":52.3,"type":"quantitative","scale":{"domain":[0,555],"range":[0,555],"nice":false,"zero":false},"axis":null},"y":{"datum":27.8,"type":"quantitative","scale":{"domain":[0,260],"range":[0,260],"nice":false,"zero":false},"axis":null}}},
   {"mark":{"type":"rect","fill":"#ffffff","stroke":"#7f7f7f","strokeWidth":1},"encoding":{"x":{"datum":174.3,"type":"quantitative","scale":{"domain":[0,555],"range":[0,555],"nice":false,"zero":false},"axis":null},"x2":{"datum":215.7},"y":{"datum":8.3,"type":"quantitative","scale":{"domain":[0,260],"range":[0,260],"nice":false,"zero":false},"axis":null},"y2":{"datum":21}}},
   {"mark":{"type":"rect","fill":"#ffffff","stroke":"#7f7f7f","strokeWidth":1},"encoding":{"x":{"datum":174.3,"type":"quantitative","scale":{"domain":[0,555],"range":[0,555],"nice":false,"zero":false},"axis":null},"x2":{"datum":215.7},"y":{"datum":21,"type":"quantitative","scale":{"domain":[0,260],"range":[0,260],"nice":false,"zero":false},"axis":null},"y2":{"datum":34.3}}},
   {"mark":{"type":"text","text":"Month 37","align":"center","baseline":"middle","fontSize":8.5,"color":"#1f1fff"},"encoding":{"x":{"datum":194.8,"type":"quantitative","scale":{"domain":[0,555],"range":[0,555],"nice":false,"zero":false},"axis":null},"y":{"datum":14.5,"type":"quantitative","scale":{"domain":[0,260],"range":[0,260],"nice":false,"zero":false},"axis":null}}},
   {"mark":{"type":"text","text":"Month 48","align":"center","baseline":"middle","fontSize":8.5,"color":"#1f1fff"},"encoding":{"x":{"datum":194.8,"type":"quantitative","scale":{"domain":[0,555],"range":[0,555],"nice":false,"zero":false},"axis":null},"y":{"datum":27.8,"type":"quantitative","scale":{"domain":[0,260],"range":[0,260],"nice":false,"zero":false},"axis":null}}},
   {"mark":{"type":"text","text":"Enter between 1 to 60 for Start Month and End Month and do not delete/clear cells.","align":"left","baseline":"middle","fontSize":7.7,"fontStyle":"italic","color":"#6a8fd4"},"encoding":{"x":{"datum":217.7,"type":"quantitative","scale":{"domain":[0,555],"range":[0,555],"nice":false,"zero":false},"axis":null},"y":{"datum":15,"type":"quantitative","scale":{"domain":[0,260],"range":[0,260],"nice":false,"zero":false},"axis":null}}},
   {"mark":{"type":"text","text":"(Graph compatible with Microsoft 365 and Excel 2021)","align":"left","baseline":"middle","fontSize":9,"fontStyle":"italic","color":"#2478d0"},"encoding":{"x":{"datum":217.7,"type":"quantitative","scale":{"domain":[0,555],"range":[0,555],"nice":false,"zero":false},"axis":null},"y":{"datum":27.8,"type":"quantitative","scale":{"domain":[0,260],"range":[0,260],"nice":false,"zero":false},"axis":null}}},
   {"mark":{"type":"text","text":"Percentage Distribution of Monthly Total Revenue by Services and Products","align":"center","baseline":"middle","fontSize":9.5,"fontWeight":"bold","color":"#1f1fff"},"encoding":{"x":{"datum":281,"type":"quantitative","scale":{"domain":[0,555],"range":[0,555],"nice":false,"zero":false},"axis":null},"y":{"datum":49,"type":"quantitative","scale":{"domain":[0,260],"range":[0,260],"nice":false,"zero":false},"axis":null}}}
  ]}
 ]},
 {"width":560,"height":310,"resolve":{"scale":{"x":"independent","y":"independent"}},"layer":[
  {"data":{"name":"cusYear"},
   "encoding":{"x":{"field":"period","type":"nominal","sort":null,"scale":{"range":[113,499],"paddingInner":0.6,"paddingOuter":0.3},"axis":{"title":null,"labelAngle":0,"offset":-24}}},
   "layer":[
    {"mark":{"type":"bar"},"encoding":{
     "y":{"field":"value","type":"quantitative","stack":"zero","scale":{"domain":[0,50000000],"range":[286,82.3],"nice":false},"axis":{"title":null,"offset":-113,"domain":false,"values":[0,5000000,10000000,15000000,20000000,25000000,30000000,35000000,40000000,45000000,50000000],"format":",d","labelPadding":6,"labelFontSize":7.8}},
     "color":{"field":"cat","type":"nominal","scale":{"domain":["Individual Patients","Healthcare Providers","Corporate Clients"],"range":["#4f81bd","#c0504d","#9bbb59"]},"legend":{"title":null,"orient":"none","legendX":157,"legendY":83.5,"direction":"horizontal","columnPadding":15}},
     "order":{"field":"cat","type":"nominal","sort":"descending"}}},
    {"mark":{"type":"text","baseline":"bottom","dy":-4,"fontSize":7.5,"fontWeight":"bold"},"encoding":{
     "y":{"aggregate":"sum","field":"value","type":"quantitative","axis":{"title":null,"offset":-113,"domain":false,"values":[0,5000000,10000000,15000000,20000000,25000000,30000000,35000000,40000000,45000000,50000000],"format":",d","labelPadding":6,"labelFontSize":7.8}},
     "text":{"aggregate":"sum","field":"value","type":"quantitative","format":",d"}}}
   ]},
  {"data":{"values":[{}]},"layer":[
   {"mark":{"type":"rule","color":"#b0b0b0"},"encoding":{"x":{"datum":56.5,"type":"quantitative","scale":{"domain":[0,560],"range":[0,560],"nice":false,"zero":false},"axis":null}}},
   {"mark":{"type":"rect","color":"#2aa3cc"},"encoding":{"x":{"datum":57,"type":"quantitative","scale":{"domain":[0,560],"range":[0,560],"nice":false,"zero":false},"axis":null},"x2":{"datum":560},"y":{"datum":5,"type":"quantitative","scale":{"domain":[0,310],"range":[0,310],"nice":false,"zero":false},"axis":null},"y2":{"datum":17.5}}},
   {"mark":{"type":"text","text":"Annual Total Revenue Breakdown by Customer Segements (in USD)","align":"center","baseline":"middle","fontSize":10.3,"fontWeight":"bold","color":"#1f1fff"},"encoding":{"x":{"datum":283,"type":"quantitative","scale":{"domain":[0,560],"range":[0,560],"nice":false,"zero":false},"axis":null},"y":{"datum":69.7,"type":"quantitative","scale":{"domain":[0,310],"range":[0,310],"nice":false,"zero":false},"axis":null}}}
  ]}
 ]},
 {"width":555,"height":310,"resolve":{"scale":{"x":"independent","y":"independent"}},"layer":[
  {"data":{"name":"cusMonth"},
   "encoding":{"x":{"field":"period","type":"nominal","sort":null,"scale":{"range":[96.7,495],"paddingInner":0.43,"paddingOuter":0.215},"axis":{"title":null,"labelAngle":-45,"offset":-40.7,"labelFontSize":7.2,"labelPadding":3}}},
   "layer":[
    {"mark":{"type":"bar"},"encoding":{
     "y":{"field":"value","type":"quantitative","stack":"zero","scale":{"domain":[0,4500000],"range":[269.3,104.3],"nice":false},"axis":{"title":null,"offset":-96.7,"domain":true,"domainColor":"#bfbfbf","values":[0,500000,1000000,1500000,2000000,2500000,3000000,3500000,4000000,4500000],"format":",d","labelPadding":6,"labelFontSize":7.6}},
     "color":{"field":"cat","type":"nominal","scale":{"domain":["Individual Patients","Healthcare Providers","Corporate Clients"],"range":["#4f81bd","#c0504d","#9bbb59"]},"legend":{"title":null,"orient":"none","legendX":165,"legendY":91.2,"direction":"horizontal","columnPadding":15}},
     "order":{"field":"cat","type":"nominal","sort":"descending"}}}
   ]},
  {"data":{"values":[{}]},"layer":[
   {"mark":{"type":"rect","color":"#2aa3cc"},"encoding":{"x":{"datum":0,"type":"quantitative","scale":{"domain":[0,555],"range":[0,555],"nice":false,"zero":false},"axis":null},"x2":{"datum":505},"y":{"datum":5,"type":"quantitative","scale":{"domain":[0,310],"range":[0,310],"nice":false,"zero":false},"axis":null},"y2":{"datum":17.5}}},
   {"mark":{"type":"text","text":"2. Total Revenue Composition Analysis - Customer Segments","align":"center","baseline":"middle","fontSize":11.2,"fontWeight":"bold","color":"#ffffff"},"encoding":{"x":{"datum":1,"type":"quantitative","scale":{"domain":[0,555],"range":[0,555],"nice":false,"zero":false},"axis":null},"y":{"datum":11.5,"type":"quantitative","scale":{"domain":[0,310],"range":[0,310],"nice":false,"zero":false},"axis":null}}},
   {"mark":{"type":"text","text":"Enter Start Month","align":"left","baseline":"middle","fontSize":8.5,"color":"#000000"},"encoding":{"x":{"datum":52.3,"type":"quantitative","scale":{"domain":[0,555],"range":[0,555],"nice":false,"zero":false},"axis":null},"y":{"datum":25.2,"type":"quantitative","scale":{"domain":[0,310],"range":[0,310],"nice":false,"zero":false},"axis":null}}},
   {"mark":{"type":"text","text":"Enter End Month","align":"left","baseline":"middle","fontSize":8.5,"color":"#000000"},"encoding":{"x":{"datum":52.3,"type":"quantitative","scale":{"domain":[0,555],"range":[0,555],"nice":false,"zero":false},"axis":null},"y":{"datum":38.3,"type":"quantitative","scale":{"domain":[0,310],"range":[0,310],"nice":false,"zero":false},"axis":null}}},
   {"mark":{"type":"rect","fill":"#ffffff","stroke":"#7f7f7f","strokeWidth":1},"encoding":{"x":{"datum":174.3,"type":"quantitative","scale":{"domain":[0,555],"range":[0,555],"nice":false,"zero":false},"axis":null},"x2":{"datum":215.7},"y":{"datum":19,"type":"quantitative","scale":{"domain":[0,310],"range":[0,310],"nice":false,"zero":false},"axis":null},"y2":{"datum":31.7}}},
   {"mark":{"type":"rect","fill":"#ffffff","stroke":"#7f7f7f","strokeWidth":1},"encoding":{"x":{"datum":174.3,"type":"quantitative","scale":{"domain":[0,555],"range":[0,555],"nice":false,"zero":false},"axis":null},"x2":{"datum":215.7},"y":{"datum":31.7,"type":"quantitative","scale":{"domain":[0,310],"range":[0,310],"nice":false,"zero":false},"axis":null},"y2":{"datum":44.3}}},
   {"mark":{"type":"text","text":"Month 49","align":"center","baseline":"middle","fontSize":8.5,"color":"#1f1fff"},"encoding":{"x":{"datum":194.8,"type":"quantitative","scale":{"domain":[0,555],"range":[0,555],"nice":false,"zero":false},"axis":null},"y":{"datum":25.2,"type":"quantitative","scale":{"domain":[0,310],"range":[0,310],"nice":false,"zero":false},"axis":null}}},
   {"mark":{"type":"text","text":"Month 60","align":"center","baseline":"middle","fontSize":8.5,"color":"#1f1fff"},"encoding":{"x":{"datum":194.8,"type":"quantitative","scale":{"domain":[0,555],"range":[0,555],"nice":false,"zero":false},"axis":null},"y":{"datum":38.3,"type":"quantitative","scale":{"domain":[0,310],"range":[0,310],"nice":false,"zero":false},"axis":null}}},
   {"mark":{"type":"text","text":"Enter between 1 to 60 for Start Month and End Month and do not delete/clear cells.","align":"left","baseline":"middle","fontSize":7.7,"fontStyle":"italic","color":"#6a8fd4"},"encoding":{"x":{"datum":217.7,"type":"quantitative","scale":{"domain":[0,555],"range":[0,555],"nice":false,"zero":false},"axis":null},"y":{"datum":25.7,"type":"quantitative","scale":{"domain":[0,310],"range":[0,310],"nice":false,"zero":false},"axis":null}}},
   {"mark":{"type":"text","text":"(Graph compatible with Microsoft 365 and Excel 2021)","align":"left","baseline":"middle","fontSize":9,"fontStyle":"italic","color":"#2478d0"},"encoding":{"x":{"datum":217.7,"type":"quantitative","scale":{"domain":[0,555],"range":[0,555],"nice":false,"zero":false},"axis":null},"y":{"datum":38.3,"type":"quantitative","scale":{"domain":[0,310],"range":[0,310],"nice":false,"zero":false},"axis":null}}},
   {"mark":{"type":"text","text":"Monthly Total Revenue Breakdown by Customer Segements (in USD)","align":"center","baseline":"middle","fontSize":10.3,"fontWeight":"bold","color":"#1f1fff"},"encoding":{"x":{"datum":285,"type":"quantitative","scale":{"domain":[0,555],"range":[0,555],"nice":false,"zero":false},"axis":null},"y":{"datum":70.7,"type":"quantitative","scale":{"domain":[0,310],"range":[0,310],"nice":false,"zero":false},"axis":null}}}
  ]}
 ]},
 {"width":560,"height":285,"resolve":{"scale":{"x":"independent","y":"independent"}},"layer":[
  {"data":{"name":"cusYearPct"},
   "encoding":{"x":{"field":"period","type":"nominal","sort":null,"scale":{"range":[88,501],"paddingInner":0.5,"paddingOuter":0.25},"axis":{"title":null,"labelAngle":0,"offset":-31}}},
   "layer":[
    {"mark":{"type":"bar"},"encoding":{
     "y":{"field":"share","type":"quantitative","stack":"normalize","scale":{"domain":[0,1],"range":[254,102],"nice":false},"axis":{"title":null,"offset":-88,"domain":false,"values":[0,0.1,0.2,0.3,0.4,0.5,0.6,0.7,0.8,0.9,1],"format":".0%","labelPadding":6,"labelFontSize":7.8}},
     "color":{"field":"cat","type":"nominal","scale":{"domain":["Individual Patients","Healthcare Providers","Corporate Clients"],"range":["#4f81bd","#c0504d","#9bbb59"]},"legend":{"title":null,"orient":"none","legendX":157,"legendY":81.2,"direction":"horizontal","columnPadding":15}},
     "order":{"field":"cat","type":"nominal","sort":"descending"}}},
    {"mark":{"type":"text","baseline":"middle","fontSize":7.5,"fontWeight":"bold","color":"#000000"},"encoding":{
     "y":{"field":"share","type":"quantitative","stack":"normalize","bandPosition":0.5,"axis":{"title":null,"offset":-88,"domain":false,"values":[0,0.1,0.2,0.3,0.4,0.5,0.6,0.7,0.8,0.9,1],"format":".0%","labelPadding":6,"labelFontSize":7.8}},
     "detail":{"field":"cat","type":"nominal"},
     "order":{"field":"cat","type":"nominal","sort":"descending"},
     "text":{"field":"share","type":"quantitative","format":".1%"}}}
   ]},
  {"data":{"values":[{}]},"layer":[
   {"mark":{"type":"rule","color":"#b0b0b0"},"encoding":{"x":{"datum":56.5,"type":"quantitative","scale":{"domain":[0,560],"range":[0,560],"nice":false,"zero":false},"axis":null}}},
   {"mark":{"type":"text","text":"Percentage Distribution of Yearly Total Revenue by Customer Segments","align":"center","baseline":"middle","fontSize":10.3,"fontWeight":"bold","color":"#1f1fff"},"encoding":{"x":{"datum":283,"type":"quantitative","scale":{"domain":[0,560],"range":[0,560],"nice":false,"zero":false},"axis":null},"y":{"datum":67,"type":"quantitative","scale":{"domain":[0,285],"range":[0,285],"nice":false,"zero":false},"axis":null}}}
  ]}
 ]},
 {"width":555,"height":285,"resolve":{"scale":{"x":"independent","y":"independent"}},"layer":[
  {"data":{"name":"cusMonthPct"},
   "encoding":{"x":{"field":"period","type":"nominal","sort":null,"scale":{"range":[37.7,510],"paddingInner":0.22,"paddingOuter":0.11},"axis":{"title":null,"labelAngle":-45,"offset":-40.3,"labelFontSize":7.2,"labelPadding":2,"values":["Month 1","Month 3","Month 5","Month 7","Month 9","Month 11","Month 13","Month 15","Month 17","Month 19","Month 21","Month 23","Month 25","Month 27","Month 29","Month 31","Month 33","Month 35","Month 37","Month 39","Month 41","Month 43","Month 45","Month 47"]}}},
   "layer":[
    {"mark":{"type":"bar"},"encoding":{
     "y":{"field":"share","type":"quantitative","stack":"normalize","scale":{"domain":[0,1],"range":[244.7,109.7],"nice":false},"axis":{"title":null,"offset":-37.7,"domain":false,"values":[0,0.1,0.2,0.3,0.4,0.5,0.6,0.7,0.8,0.9,1],"format":".0%","labelPadding":6,"labelFontSize":7.6}},
     "color":{"field":"cat","type":"nominal","scale":{"domain":["Individual Patients","Healthcare Providers","Corporate Clients"],"range":["#4f81bd","#c0504d","#9bbb59"]},"legend":{"title":null,"orient":"none","legendX":113,"legendY":92.5,"direction":"horizontal","columnPadding":22}},
     "order":{"field":"cat","type":"nominal","sort":"descending"}}}
   ]},
  {"data":{"values":[{}]},"layer":[
   {"mark":{"type":"text","text":"Enter Start Month","align":"left","baseline":"middle","fontSize":8.5,"color":"#000000"},"encoding":{"x":{"datum":52.3,"type":"quantitative","scale":{"domain":[0,555],"range":[0,555],"nice":false,"zero":false},"axis":null},"y":{"datum":24.1,"type":"quantitative","scale":{"domain":[0,285],"range":[0,285],"nice":false,"zero":false},"axis":null}}},
   {"mark":{"type":"text","text":"Enter End Month","align":"left","baseline":"middle","fontSize":8.5,"color":"#000000"},"encoding":{"x":{"datum":52.3,"type":"quantitative","scale":{"domain":[0,555],"range":[0,555],"nice":false,"zero":false},"axis":null},"y":{"datum":37.3,"type":"quantitative","scale":{"domain":[0,285],"range":[0,285],"nice":false,"zero":false},"axis":null}}},
   {"mark":{"type":"rect","fill":"#ffffff","stroke":"#7f7f7f","strokeWidth":1},"encoding":{"x":{"datum":174.3,"type":"quantitative","scale":{"domain":[0,555],"range":[0,555],"nice":false,"zero":false},"axis":null},"x2":{"datum":215.7},"y":{"datum":17.7,"type":"quantitative","scale":{"domain":[0,285],"range":[0,285],"nice":false,"zero":false},"axis":null},"y2":{"datum":30.7}}},
   {"mark":{"type":"rect","fill":"#ffffff","stroke":"#7f7f7f","strokeWidth":1},"encoding":{"x":{"datum":174.3,"type":"quantitative","scale":{"domain":[0,555],"range":[0,555],"nice":false,"zero":false},"axis":null},"x2":{"datum":215.7},"y":{"datum":30.7,"type":"quantitative","scale":{"domain":[0,285],"range":[0,285],"nice":false,"zero":false},"axis":null},"y2":{"datum":43.3}}},
   {"mark":{"type":"text","text":"Month 1","align":"center","baseline":"middle","fontSize":8.5,"color":"#1f1fff"},"encoding":{"x":{"datum":194.8,"type":"quantitative","scale":{"domain":[0,555],"range":[0,555],"nice":false,"zero":false},"axis":null},"y":{"datum":24.1,"type":"quantitative","scale":{"domain":[0,285],"range":[0,285],"nice":false,"zero":false},"axis":null}}},
   {"mark":{"type":"text","text":"Month 48","align":"center","baseline":"middle","fontSize":8.5,"color":"#1f1fff"},"encoding":{"x":{"datum":194.8,"type":"quantitative","scale":{"domain":[0,555],"range":[0,555],"nice":false,"zero":false},"axis":null},"y":{"datum":37.3,"type":"quantitative","scale":{"domain":[0,285],"range":[0,285],"nice":false,"zero":false},"axis":null}}},
   {"mark":{"type":"text","text":"Enter between 1 to 60 for Start Month and End Month and do not delete/clear cells.","align":"left","baseline":"middle","fontSize":7.7,"fontStyle":"italic","color":"#6a8fd4"},"encoding":{"x":{"datum":217.7,"type":"quantitative","scale":{"domain":[0,555],"range":[0,555],"nice":false,"zero":false},"axis":null},"y":{"datum":24.6,"type":"quantitative","scale":{"domain":[0,285],"range":[0,285],"nice":false,"zero":false},"axis":null}}},
   {"mark":{"type":"text","text":"(Graph compatible with Microsoft 365 and Excel 2021)","align":"left","baseline":"middle","fontSize":9,"fontStyle":"italic","color":"#2478d0"},"encoding":{"x":{"datum":217.7,"type":"quantitative","scale":{"domain":[0,555],"range":[0,555],"nice":false,"zero":false},"axis":null},"y":{"datum":37.3,"type":"quantitative","scale":{"domain":[0,285],"range":[0,285],"nice":false,"zero":false},"axis":null}}},
   {"mark":{"type":"text","text":"Percentage Distribution of Monthly Total Revenue by Customer Segments","align":"center","baseline":"middle","fontSize":10.3,"fontWeight":"bold","color":"#1f1fff"},"encoding":{"x":{"datum":264,"type":"quantitative","scale":{"domain":[0,555],"range":[0,555],"nice":false,"zero":false},"axis":null},"y":{"datum":74.7,"type":"quantitative","scale":{"domain":[0,285],"range":[0,285],"nice":false,"zero":false},"axis":null}}}
  ]}
 ]}
]
}
